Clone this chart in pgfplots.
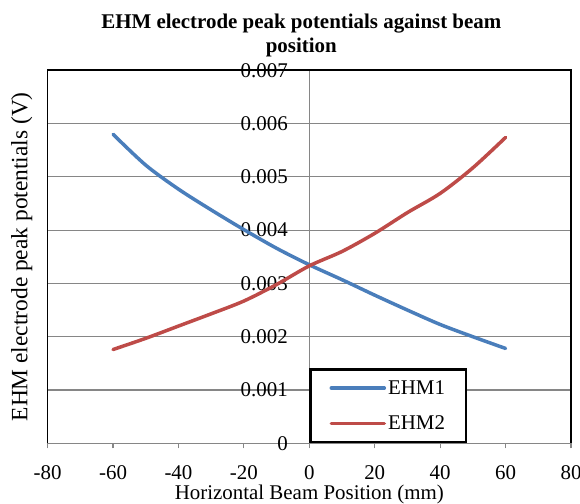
\documentclass[border=0pt]{standalone}
\usepackage{fontspec}
\setmainfont{Liberation Serif}
\usepackage{pgfplots}
\pgfplotsset{compat=1.18}
\definecolor{ehmblue}{HTML}{4A7EBB}
\definecolor{ehmred}{HTML}{BE4B48}
\definecolor{gridgray}{HTML}{868686}
\newcommand{\chartfont}{\fontsize{21}{24}\selectfont}
\begin{document}
\begin{tikzpicture}
\useasboundingbox (-47.6bp,-60.7bp) rectangle (532.4bp,443.3bp);
\begin{axis}[
    scale only axis,
    width=523.4bp, height=373bp,
    xmin=-80, xmax=80, ymin=0, ymax=0.007,
    clip=false,
    axis x line*=bottom,
    axis y line*=middle,
    axis line style={gridgray, line width=1.2bp, -},
    xtick={-80,-60,-40,-20,0,20,40,60,80},
    xticklabels={-80,-60,-40,-20,0,20,40,60,80},
    ytick={0,0.001,0.002,0.003,0.004,0.005,0.006,0.007},
    yticklabels={0,0.001,0.002,0.003,0.004,0.005,0.006,0.007},
    scaled y ticks=false,
    hide obscured x ticks=false, hide obscured y ticks=false,
    tick align=outside,
    major tick length=5bp,
    tick style={gridgray, line width=1.2bp},
    ymajorgrids,
    grid style={gridgray, line width=1.2bp},
    ticklabel style={font=\chartfont},
    xticklabel style={anchor=base, yshift=-31bp, inner sep=1bp},
    yticklabel style={xshift=-13bp},
    title={EHM electrode peak potentials against beam\\position},
    title style={at={(rel axis cs:0.5,1)}, anchor=south, xshift=-8bp, yshift=4bp,
        align=center, font=\bfseries\chartfont},
    xlabel={Horizontal Beam Position (mm)},
    every axis x label/.style={at={(rel axis cs:0.5,0)}, anchor=base, yshift=-56.5bp,
        inner sep=1bp, font=\chartfont},
    ylabel={EHM electrode peak potentials (V)},
    every axis y label/.style={at={(rel axis cs:0,0.5)}, xshift=-11.6bp, rotate=90, anchor=south,
        font=\fontsize{23.5}{26}\selectfont},
    legend style={at={(rel axis cs:0.5,0)}, anchor=south west, draw=black, line width=2.5bp,
        fill=white, font=\chartfont, inner xsep=19bp, inner ysep=9bp, row sep=16bp},
    legend cell align=left,
    legend image code/.code={\draw[#1, line cap=round] (0bp,0bp) -- (53bp,0bp);},
]
\addplot[ehmblue, line width=3.5bp, line cap=round, smooth, tension=0.5] coordinates {
    (-60,0.00580) (-50,0.00522) (-40,0.00477) (-30,0.00438) (-20,0.00401)
    (-10,0.00366) (0,0.00335) (10,0.00307) (20,0.00278) (30,0.00250)
    (40,0.00223) (50,0.00200) (60,0.00178)
};
\addlegendentry{EHM1}
\addplot[ehmred, line width=3.5bp, line cap=round, smooth, tension=0.5] coordinates {
    (-60,0.00176) (-50,0.00197) (-40,0.00220) (-30,0.00243) (-20,0.00267)
    (-10,0.00298) (0,0.00333) (10,0.00360) (20,0.00394) (30,0.00433)
    (40,0.00469) (50,0.00517) (60,0.00574)
};
\addlegendentry{EHM2}
\draw[black, line width=1.8bp] (rel axis cs:0,0) -- (rel axis cs:0,1)
    -- (rel axis cs:1,1) -- (rel axis cs:1,0);
\end{axis}
\end{tikzpicture}
\end{document}
